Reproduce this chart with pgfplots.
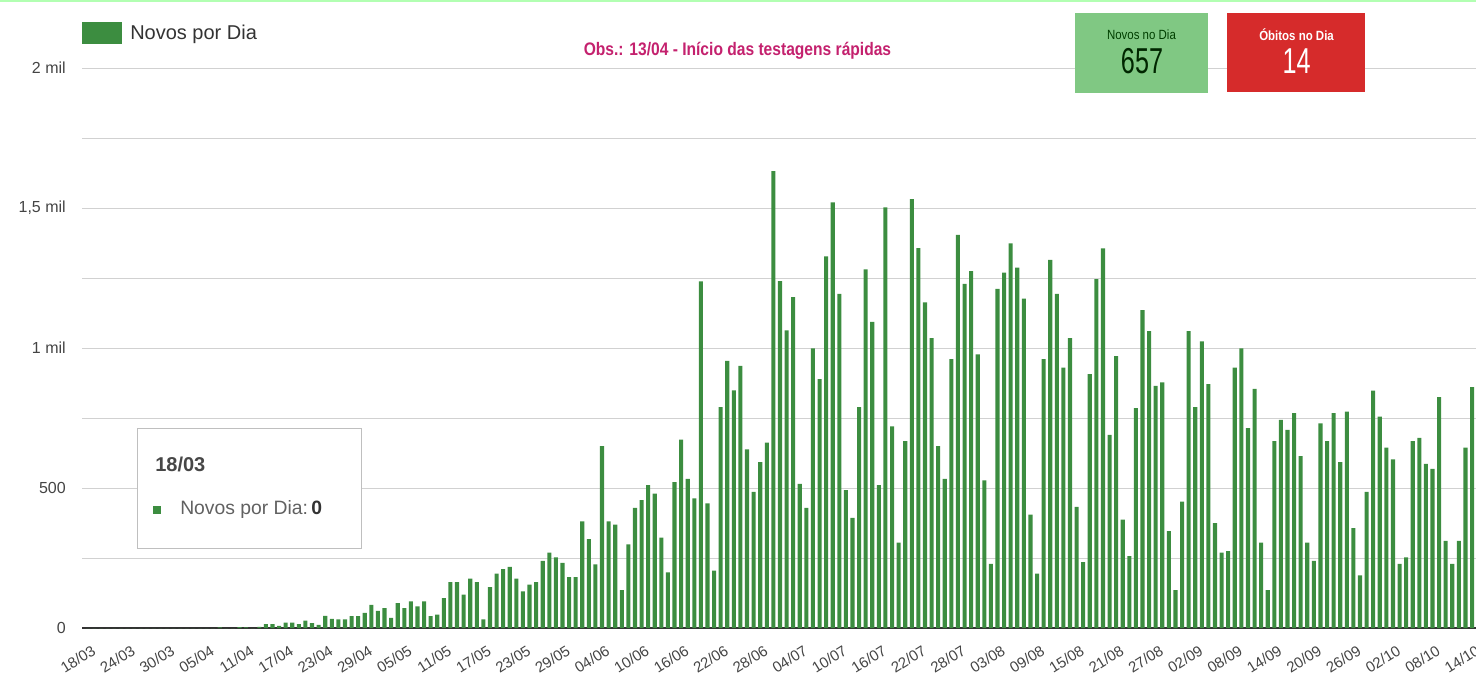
\documentclass[border=0pt]{standalone}
\usepackage{fontspec}
\setmainfont{Liberation Sans}
\newfontfamily\condfont[FakeStretch=0.86]{Liberation Sans}
\newfontfamily\narrowfont[FakeStretch=0.7]{Liberation Sans}
\usepackage{pgfplots}
\pgfplotsset{compat=1.18}
\usepackage{pgfplotstable}
\usetikzlibrary{shadows}
\definecolor{bargreen}{HTML}{3C8D40}
\definecolor{boxgreen}{HTML}{80C883}
\definecolor{boxred}{HTML}{D62B2B}
\definecolor{obspink}{HTML}{C4216E}
\definecolor{txtgray}{HTML}{444444}

\pgfplotstableread{
x y
0 0
1 0
2 0
3 0
4 0
5 0
6 0
7 0
8 0
9 0
10 0
11 0
12 0
13 0
14 0
15 0
16 0
17 0
18 0
19 0
20 2
21 0
22 0
23 3
24 2
25 0
26 4
27 14
28 14
29 8
30 19
31 19
32 14
33 26
34 17
35 11
36 43
37 33
38 31
39 31
40 42
41 42
42 54
43 83
44 61
45 71
46 36
47 89
48 71
49 95
50 77
51 95
52 42
53 48
54 107
55 164
56 164
57 119
58 176
59 164
60 31
61 146
62 194
63 210
64 218
65 176
66 131
67 155
68 164
69 240
70 269
71 252
72 233
73 182
74 182
75 381
76 317
77 227
78 650
79 381
80 369
81 135
82 299
83 429
84 457
85 510
86 480
87 323
88 199
89 521
90 673
91 533
92 463
93 1238
94 445
95 205
96 789
97 954
98 849
99 936
100 638
101 486
102 592
103 662
104 1632
105 1239
106 1063
107 1182
108 515
109 429
110 999
111 889
112 1327
113 1520
114 1193
115 492
116 393
117 789
118 1281
119 1093
120 510
121 1502
122 720
123 305
124 667
125 1532
126 1357
127 1163
128 1035
129 650
130 533
131 960
132 1404
133 1229
134 1275
135 977
136 527
137 229
138 1211
139 1269
140 1374
141 1287
142 1176
143 405
144 194
145 960
146 1315
147 1193
148 930
149 1035
150 433
151 235
152 907
153 1246
154 1356
155 690
156 971
157 387
158 257
159 785
160 1135
161 1060
162 865
163 877
164 346
165 135
166 451
167 1060
168 789
169 1024
170 871
171 375
172 269
173 275
174 930
175 999
176 714
177 854
178 305
179 135
180 667
181 743
182 708
183 767
184 614
185 305
186 240
187 731
188 667
189 767
190 592
191 773
192 357
193 188
194 486
195 848
196 755
197 644
198 602
199 229
200 252
201 667
202 679
203 586
204 568
205 825
206 311
207 229
208 311
209 644
210 860
}\casos

\begin{document}
\begin{tikzpicture}
\useasboundingbox (0,0) rectangle (1107pt,515.25pt);
\draw[green!30, line width=1.5pt] (0,514.5pt) -- (1107pt,514.5pt);
\begin{axis}[
  at={(61.5pt,44.25pt)}, anchor=south west,
  scale only axis, width=1045.5pt, height=420pt,
  xmin=-0.9, xmax=210.6, ymin=0, ymax=2000,
  axis line style={draw=none},
  major tick length=0pt, minor tick length=0pt,
  ytick={0,500,1000,1500,2000},
  yticklabels={0,500,1 mil,{1,5 mil},2 mil},
  minor ytick={250,750,1250,1750},
  ymajorgrids, yminorgrids,
  grid style={draw=black!18, line width=0.75pt},
  minor grid style={draw=black!18, line width=0.75pt},
  extra y ticks={0}, extra y tick labels={},
  extra y tick style={grid style={draw=black!80, line width=1.5pt}},
  xtick={0,6,...,210},
  xticklabels={18/03,24/03,30/03,05/04,11/04,17/04,23/04,29/04,05/05,11/05,17/05,23/05,29/05,04/06,10/06,16/06,22/06,28/06,04/07,10/07,16/07,22/07,28/07,03/08,09/08,15/08,21/08,27/08,02/09,08/09,14/09,20/09,26/09,02/10,08/10,14/10},
  xticklabel style={rotate=32, anchor=north east, inner sep=0.5pt, yshift=-11pt, xshift=-4pt, font=\fontsize{11.25pt}{13pt}\selectfont, text=txtgray},
  yticklabel style={anchor=east, inner sep=0pt, xshift=-12pt, font=\fontsize{12pt}{14pt}\selectfont, text=txtgray},
  /pgf/number format/assume math mode=true,
  clip=false,
  legend image code/.code={\fill[bargreen] (0pt,-8.25pt) rectangle (30pt,8.25pt);},
  legend style={at={(0,1)}, anchor=west, yshift=26.25pt, draw=none, fill=none, inner sep=0pt,
    font=\fontsize{15pt}{18pt}\selectfont, text=black!80,
    nodes={inner sep=0pt}, /tikz/every odd column/.append style={column sep=6pt}},
]
\addplot[ybar, bar width=0.62, fill=bargreen, draw=none] table[x=x,y=y]{\casos};
\addlegendentry{Novos por Dia}
\end{axis}
% observation
\node[text=obspink, font=\condfont\bfseries\fontsize{13.6pt}{15pt}\selectfont] at (553.1pt,477.5pt) {Obs.: 13/04 - Início das testagens rápidas};
% indicator boxes
\fill[boxgreen] (806.25pt,445.5pt) rectangle (906pt,505.5pt);
\fill[boxred] (920.25pt,446.25pt) rectangle (1023.75pt,505.5pt);
\node[text=black!55!green!55!black, font=\condfont\fontsize{10pt}{11pt}\selectfont] at (856.1pt,489pt) {Novos no Dia};
\node[text=black!85!green, font=\narrowfont\fontsize{27pt}{30pt}\selectfont] at (856.5pt,469.1pt) {657};
\node[text=white, font=\condfont\bfseries\fontsize{10pt}{11pt}\selectfont] at (972.4pt,489pt) {Óbitos no Dia};
\node[text=white, font=\narrowfont\fontsize{27pt}{30pt}\selectfont] at (972.4pt,469.1pt) {14};
% tooltip
\draw[draw=black!25, fill=white, drop shadow={shadow xshift=1pt,shadow yshift=-1pt,opacity=0.25}] (102.75pt,104.25pt) rectangle (270.75pt,194.25pt);
\node[anchor=west, inner sep=0pt, text=black!72, font=\bfseries\fontsize{15pt}{17pt}\selectfont] at (116.25pt,167.25pt) {18/03};
\fill[bargreen] (115pt,130pt) rectangle (121pt,136pt);
\node[anchor=west, inner sep=0pt, text=black!62, font=\fontsize{14.5pt}{16pt}\selectfont] at (135pt,133pt) {Novos por Dia:\,\textbf{\color{black!80}0}};
\end{tikzpicture}
\end{document}
